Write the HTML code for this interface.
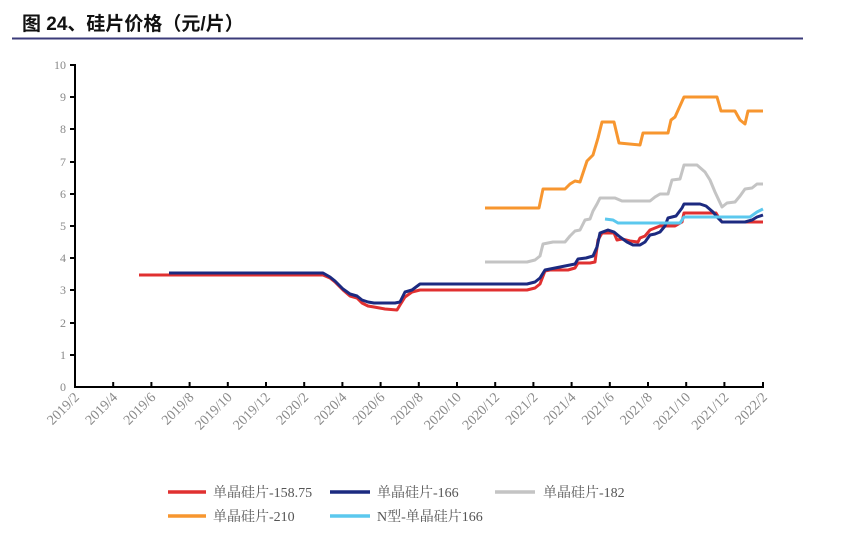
<!DOCTYPE html>
<html><head><meta charset="utf-8"><style>
body{margin:0;background:#fff;}
svg{display:block}
</style></head><body>
<svg width="849" height="534" xmlns="http://www.w3.org/2000/svg">
<text x="22" y="30" font-family="'Liberation Sans','Noto Sans CJK SC',sans-serif" font-size="19" font-weight="bold" fill="#111">图 24、硅片价格（元/片）</text>
<line x1="12" y1="38.5" x2="803" y2="38.5" stroke="#3b3b7a" stroke-width="2"/>
<g font-family="'Liberation Serif',serif" font-size="12" fill="#888" text-anchor="end">
<text x="66" y="391">0</text><text x="66" y="359">1</text><text x="66" y="327">2</text><text x="66" y="294">3</text><text x="66" y="262">4</text><text x="66" y="230">5</text><text x="66" y="198">6</text><text x="66" y="166">7</text><text x="66" y="133">8</text><text x="66" y="101">9</text><text x="66" y="69">10</text>
</g>
<g stroke="#000" stroke-width="2" fill="none">
<line x1="75" y1="64" x2="75" y2="388"/>
<line x1="74" y1="387" x2="764" y2="387"/>
<path d="M70 65H75M70 97H75M70 129H75M70 162H75M70 194H75M70 226H75M70 258H75M70 290H75M70 323H75M70 355H75"/>
<path d="M113.2 387v-5M151.4 387v-5M189.6 387v-5M227.8 387v-5M266 387v-5M304.2 387v-5M342.4 387v-5M380.6 387v-5M418.8 387v-5M457 387v-5M495.2 387v-5M533.4 387v-5M571.6 387v-5M609.8 387v-5M648 387v-5M686.2 387v-5M724.4 387v-5M763 387v-5"/>
</g>
<g font-family="'Liberation Serif',serif" font-size="14" fill="#888" text-anchor="end">
<text transform="translate(80,398) rotate(-45)">2019/2</text>
<text transform="translate(118.2,398) rotate(-45)">2019/4</text>
<text transform="translate(156.4,398) rotate(-45)">2019/6</text>
<text transform="translate(194.6,398) rotate(-45)">2019/8</text>
<text transform="translate(232.8,398) rotate(-45)">2019/10</text>
<text transform="translate(271,398) rotate(-45)">2019/12</text>
<text transform="translate(309.2,398) rotate(-45)">2020/2</text>
<text transform="translate(347.4,398) rotate(-45)">2020/4</text>
<text transform="translate(385.6,398) rotate(-45)">2020/6</text>
<text transform="translate(423.8,398) rotate(-45)">2020/8</text>
<text transform="translate(462,398) rotate(-45)">2020/10</text>
<text transform="translate(500.2,398) rotate(-45)">2020/12</text>
<text transform="translate(538.4,398) rotate(-45)">2021/2</text>
<text transform="translate(576.6,398) rotate(-45)">2021/4</text>
<text transform="translate(614.8,398) rotate(-45)">2021/6</text>
<text transform="translate(653,398) rotate(-45)">2021/8</text>
<text transform="translate(691.2,398) rotate(-45)">2021/10</text>
<text transform="translate(729.4,398) rotate(-45)">2021/12</text>
<text transform="translate(768,398) rotate(-45)">2022/2</text>
</g>
<g fill="none" stroke-width="3" stroke-linejoin="round">
<polyline stroke="#f7962f" points="485,208 539,208 543,189 565,189 570,184 575,181 580,182 587,161 593,155 598,138 602,122 614,122 619,143 640,145 643,133 668,133 671,120 675,117 684,97 717,97 721,111 735,111 740,120 745,124 748,111 763,111"/>
<polyline stroke="#c4c4c4" points="485,262 527,262 535,260 540,256 543,244 553,242 565,242 570,236 575,231 580,230 585,220 590,219 593,211 597,204 600,198 615,198 622,201 650,201 655,197 660,194 668,194 672,180 680,179 684,165 697,165 705,172 710,180 715,192 722,207 727,203 735,202 740,196 745,189 752,188 757,184 763,184"/>
<polyline stroke="#e03030" points="139,275 323,275 330,278 335,282 343,290 350,296 357,298 362,303 368,306 374,307 385,309 397,310 400,305 405,297 412,292 420,290 527,290 535,288 540,284 545,271 550,270 568,270 575,268 578,263 590,263 595,262 598,240 602,233 614,233 617,240 622,239 630,241 638,242 640,238 645,236 650,230 655,228 660,226 675,226 682,222 684,213 716,213 719,218 722,222 763,222"/>
<polyline stroke="#1c2a80" points="169,273 323,273 330,277 335,281 343,289 350,294 357,296 362,300 368,302 374,303 395,303 400,302 405,292 412,290 420,284 527,284 535,282 540,278 545,270 550,269 575,264 578,259 586,258 593,256 597,247 600,233 608,230 614,232 620,237 627,242 633,245 640,245 645,242 650,235 655,234 660,232 665,226 668,218 676,216 682,208 684,204 700,204 706,206 713,212 718,218 722,222 745,222 752,220 757,217 763,215"/>
<polyline stroke="#5bc8ee" points="605,219 613,220 618,223 680,223 684,217 750,217 757,212 763,209"/>
</g>
<g stroke-width="3.5">
<line x1="168" y1="492" x2="206" y2="492" stroke="#e03030"/>
<line x1="330" y1="492" x2="370" y2="492" stroke="#1c2a80"/>
<line x1="495" y1="492" x2="535" y2="492" stroke="#c4c4c4"/>
<line x1="168" y1="516" x2="206" y2="516" stroke="#f7962f"/>
<line x1="330" y1="516" x2="370" y2="516" stroke="#5bc8ee"/>
</g>
<g font-family="'Liberation Serif','Noto Serif CJK SC',serif" font-size="14" fill="#555">
<text x="213" y="497">单晶硅片-158.75</text>
<text x="377" y="497">单晶硅片-166</text>
<text x="543" y="497">单晶硅片-182</text>
<text x="213" y="521">单晶硅片-210</text>
<text x="377" y="521">N型-单晶硅片166</text>
</g>
</svg>
</body></html>
